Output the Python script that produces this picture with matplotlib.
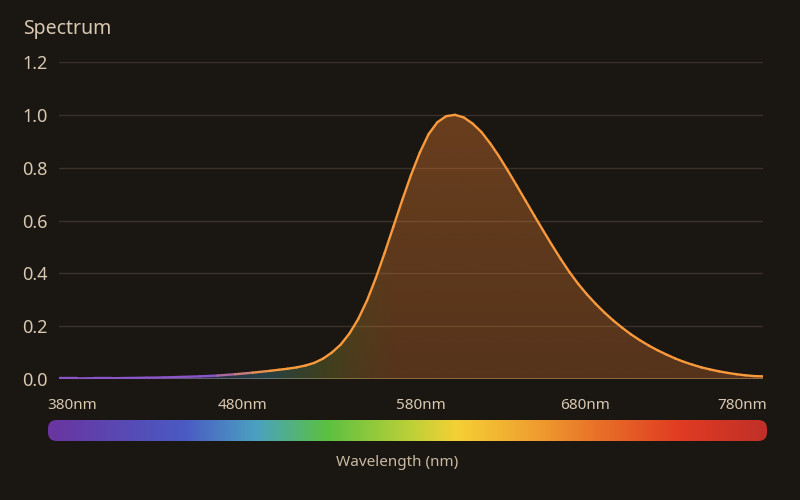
import numpy as np
import matplotlib
matplotlib.use('Agg')
import matplotlib.pyplot as plt
from matplotlib.colors import LinearSegmentedColormap, to_rgb
from matplotlib.collections import LineCollection
from matplotlib.patches import FancyBboxPatch
from matplotlib.transforms import ScaledTranslation

plt.rcParams['font.family'] = ['Noto Sans', 'DejaVu Sans']

BG = '#1a1612'
TEXT = '#d8c8b0'
GRID = '#3a3129'
ORANGE = '#f99a3c'

# spectrum samples (nm, relative intensity)
wavelength = [380, 390, 400, 410, 420, 430, 440, 450, 460, 470, 480, 490, 500, 505,
              510, 515, 520, 525, 530, 535, 540, 545, 550, 555, 560, 565, 570, 575,
              580, 585, 590, 595, 600, 605, 610, 615, 620, 625, 630, 635, 640, 645,
              650, 655, 660, 665, 670, 675, 680, 685, 690, 695, 700, 705, 710, 715,
              720, 725, 730, 735, 740, 745, 750, 755, 760, 765, 770, 775, 780]
intensity = [0.002, 0.002, 0.003, 0.003, 0.004, 0.005, 0.006, 0.008, 0.010, 0.013,
             0.018, 0.024, 0.031, 0.035, 0.039, 0.044, 0.051, 0.061, 0.077, 0.100,
             0.130, 0.172, 0.227, 0.297, 0.382, 0.477, 0.577, 0.677, 0.772, 0.857,
             0.927, 0.972, 0.995, 1.000, 0.990, 0.967, 0.935, 0.892, 0.843, 0.789,
             0.733, 0.676, 0.619, 0.563, 0.508, 0.455, 0.405, 0.360, 0.320, 0.284,
             0.251, 0.221, 0.194, 0.169, 0.147, 0.127, 0.109, 0.093, 0.078, 0.065,
             0.054, 0.044, 0.036, 0.029, 0.023, 0.018, 0.014, 0.011, 0.010]

yticks = [0.0, 0.2, 0.4, 0.6, 0.8, 1.0, 1.2]
xticks = [380, 480, 580, 680, 780]
xtick_labels = ['380nm', '480nm', '580nm', '680nm', '780nm']

# colour stops of the wavelength bar
stop_pos = [0.0, 0.188, 0.29, 0.388, 0.5, 0.569, 0.675, 0.768, 0.883, 1.0]
stop_col = ['#6a35a0', '#4a5ac4', '#4aa2c0', '#5cc040', '#b8d038', '#f5d035',
            '#f0a030', '#e87028', '#e03a22', '#c03028']

spec = LinearSegmentedColormap.from_list('spec', list(zip(stop_pos, stop_col)))
wl = np.array(wavelength, dtype=float)
val = np.array(intensity)
lo, hi = wl[0], wl[-1]

fig = plt.figure(figsize=(8, 5), dpi=100, facecolor=BG)
ax = fig.add_axes([59/800, 1-379/500, 704/800, (379-62)/500], facecolor=BG)
ax.set_xlim(lo, hi)
ax.set_ylim(0, 1.2)

for y in yticks[1:]:
    ax.axhline(y, color=GRID, lw=1, zorder=0)
ax.axhline(0, color='#7a6a58', lw=1.2, zorder=1)

# gradient fill under the curve
cols = np.linspace(lo, hi, 400)
rows = np.linspace(0, 1.2, 200)
t = (cols - lo) / (hi - lo)
sc = spec(t)[:, :3]
w = np.clip((cols - 500) / 70, 0, 1)[:, None]
rgb = sc * (1 - w) + np.array(to_rgb('#e07a30')) * w
img = np.zeros((len(rows), len(cols), 4))
img[:, :, :3] = rgb[None, :, :]
img[:, :, 3] = (0.30 + 0.12 * rows / 1.2)[:, None]
im = ax.imshow(img, extent=[lo, hi, 0, 1.2], origin='lower', aspect='auto', zorder=2,
               interpolation='bilinear')
poly = ax.fill_between(wl, val, 0, color='none', lw=0)
im.set_clip_path(poly.get_paths()[0], transform=ax.transData)

# curve: purple at the far left fading into orange
pts = np.column_stack([wl, val])
segs = np.stack([pts[:-1], pts[1:]], axis=1)
mid = (wl[:-1] + wl[1:]) / 2
lw_ = np.clip((mid - 465) / 35, 0, 1)[:, None]
left = np.array(to_rgb('#8a55c8'))
lc_cols = left * (1 - lw_) + np.array(to_rgb(ORANGE)) * lw_
lc = LineCollection(segs, colors=lc_cols, lw=1.7, capstyle='round', joinstyle='round', zorder=3)
ax.add_collection(lc)

for s in ax.spines.values():
    s.set_visible(False)
ax.set_yticks(yticks)
ax.set_yticklabels([f'{v:.1f}' for v in yticks])
ax.tick_params(axis='y', length=0, pad=8, labelsize=13, labelcolor=TEXT)
ax.set_xticks(xticks)
ax.set_xticklabels(xtick_labels)
ax.tick_params(axis='x', length=0, pad=14, labelsize=11, labelcolor=TEXT)
shifts = [13, 8, 10, -2, -21]
for lab, dx in zip(ax.get_xticklabels(), shifts):
    lab.set_transform(lab.get_transform() + ScaledTranslation(dx/100, 0, fig.dpi_scale_trans))

fig.text(23/800, 1-34/500, 'Spectrum', fontsize=14, color=TEXT, va='baseline', ha='left')

# wavelength colour bar
cax = fig.add_axes([48/800, 1-441/500, 719/800, 21/500])
cax.set_axis_off()
bar = cax.imshow(np.linspace(0, 1, 512)[None, :], cmap=spec, aspect='auto',
                 extent=[0, 1, 0, 1], interpolation='bilinear')
box = FancyBboxPatch((0, 0), 1, 1, boxstyle='round,pad=0,rounding_size=0.012',
                     mutation_aspect=34, transform=cax.transAxes, facecolor='none', edgecolor='none')
cax.add_patch(box)
bar.set_clip_path(box)
cax.set_xlim(0, 1)
cax.set_ylim(0, 1)

fig.text(397/800, 1-463/500, 'Wavelength (nm)', fontsize=11, color='#c9b9a2', ha='center', va='center')

fig.savefig('out.png', dpi=100, facecolor=BG)
